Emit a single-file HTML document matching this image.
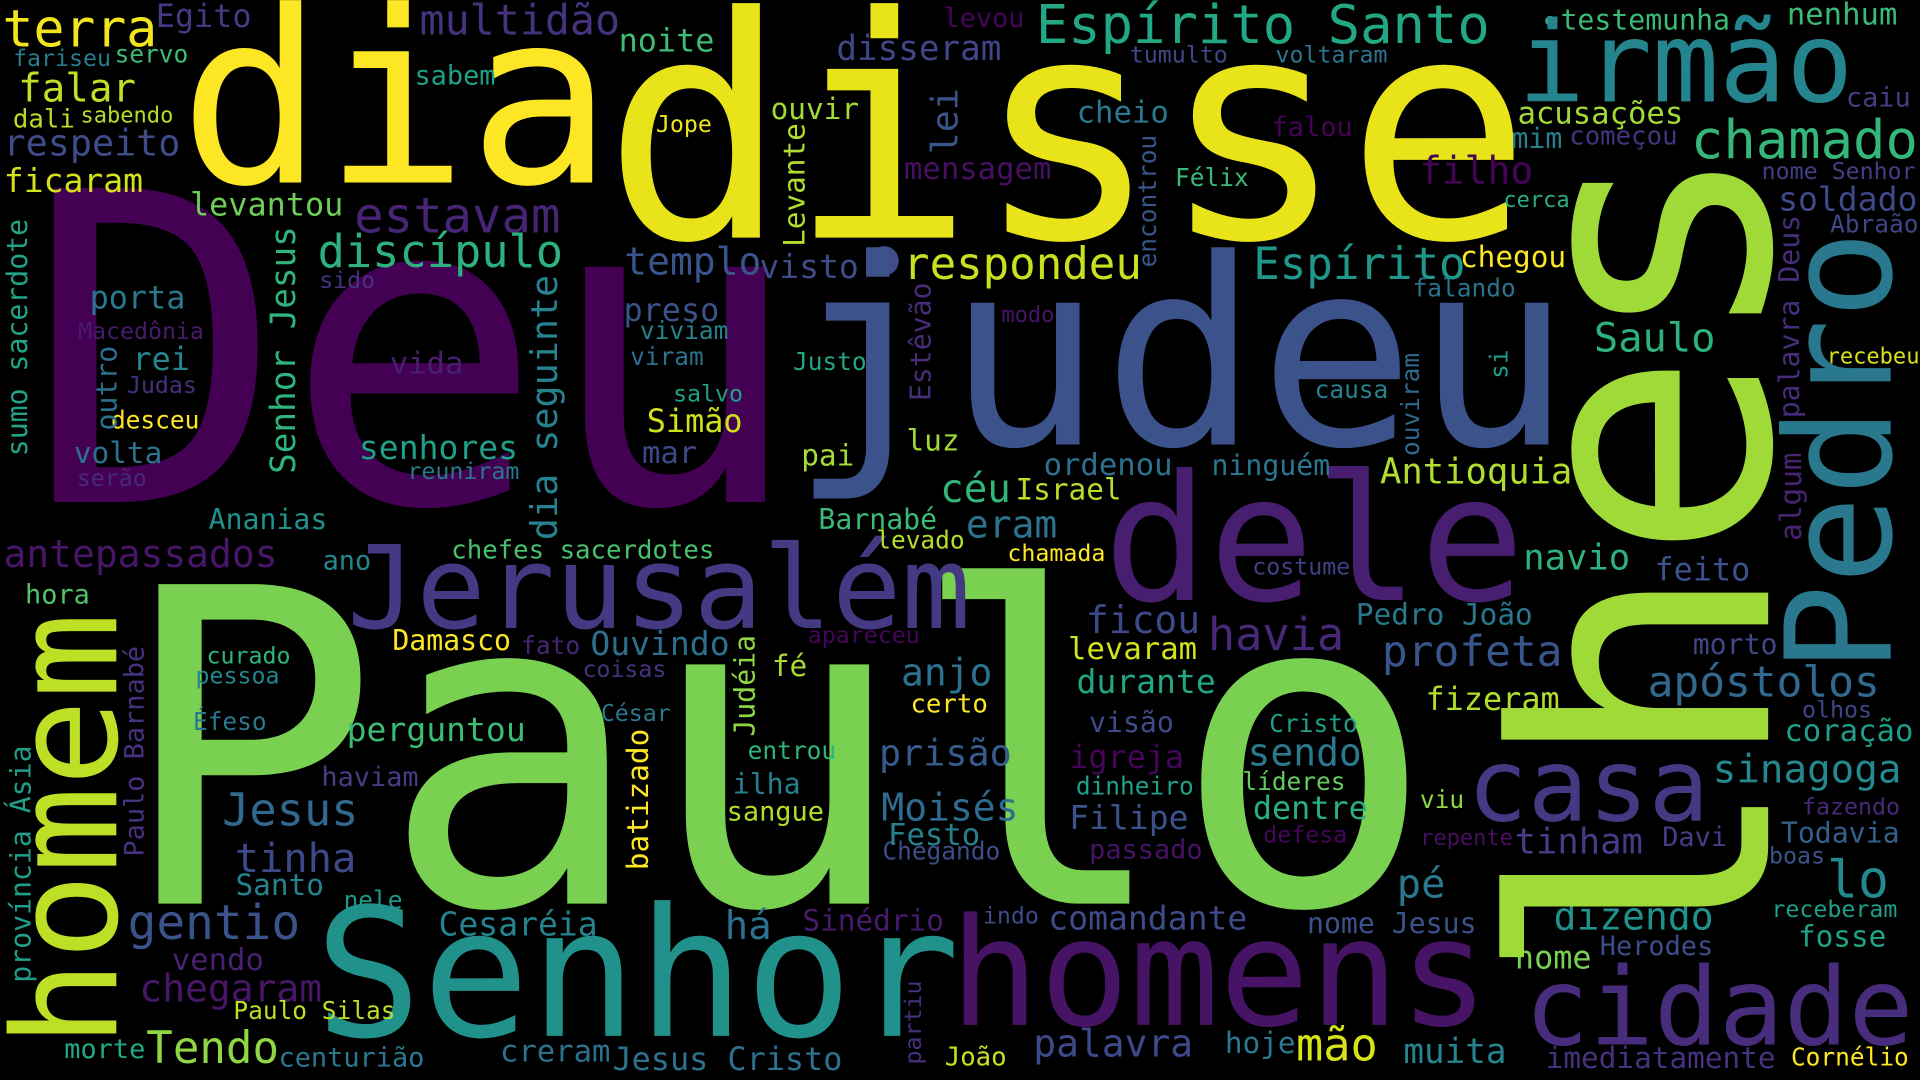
<!DOCTYPE html>
<html>
<head>
<meta charset="utf-8">
<style>
html,body{margin:0;padding:0;background:#000;width:1920px;height:1080px;overflow:hidden;}
svg{display:block;}
svg text{font-family:"DejaVu Sans Mono","Liberation Mono",monospace;}
</style>
</head>
<body>
<svg id="cloud" width="1920" height="1080" viewBox="0 0 1568 882" xmlns="http://www.w3.org/2000/svg">
<rect x="0" y="0" width="1568" height="882" fill="#000"/>
<circle cx="722" cy="213" r="12" fill="#3e4c8a"/>
<circle cx="1266" cy="17" r="4" fill="#3bbb75"/>
</svg>
<script>
// [word, visibleLeft (or baseline x if rotated), baseline (or bottom y if rotated), fontSize, color, rotated]
const words = [
["dia",160,149,196,"#fde725",0],
["disse",510,194,252,"#e8e419",0],
["Deu",45,410,352,"#440154",0],
["judeu",660,363,212,"#3b528b",0],
["Paulo",120,738,358,"#7ad151",0],
["dele",911,490,143,"#481f70",0],
["Jerusalém",290,513,94,"#443983",0],
["Senhor",267,846,146,"#21918c",0],
["homens",784,837,122,"#471365",0],
["cidade",1251,853,88,"#472d7b",0],
["casa",1204,670,82,"#443a83",0],
["irmão",1246,83,91,"#25858e",0],
["Espírito Santo",849,35,44,"#22a884",0],
["chamado",1384,129,44,"#35b779",0],
["Espírito",1026,228,36,"#1f988b",0],
["respondeu",740,228,36,"#c8e020",0],
["multidão",345,28,34,"#46337e",0],
["terra",5,38,42,"#f1e51d",0],
["Egito",129,22,26,"#443a83",0],
["fariseu",12,54,19,"#287c8e",0],
["servo",95,51,20,"#3dbc74",0],
["falar",17,83,32,"#c0df25",0],
["dali",12,104,21,"#bade28",0],
["sabendo",67,100,18,"#b5de2b",0],
["respeito",5,127,30,"#3e4c8a",0],
["ficaram",5,157,27,"#d2e21b",0],
["levantou",157,176,26,"#6ece58",0],
["estavam",292,190,40,"#482475",0],
["discípulo",262,218,37,"#2db27d",0],
["noite",507,42,26,"#3fbc73",0],
["sabem",340,69,22,"#1fa188",0],
["disseram",685,49,28,"#404688",0],
["ouvir",631,97,24,"#a2da37",0],
["Jope",537,108,19,"#f0e51c",0],
["mensagem",740,146,25,"#471063",0],
["templo",512,224,31,"#3a548c",0],
["visto",622,227,27,"#3e4c8a",0],
["porta",75,252,26,"#2a788e",0],
["sido",262,235,19,"#46327e",0],
["Macedônia",65,277,19,"#481a6c",0],
["rei",110,302,26,"#24868e",0],
["Judas",105,321,19,"#46307e",0],
["desceu",92,350,20,"#fde725",0],
["volta",62,378,24,"#2c728e",0],
["serão",64,397,19,"#482878",0],
["vida",320,305,25,"#481f70",0],
["senhores",295,375,27,"#1fa088",0],
["reuniram",334,391,19,"#2a788e",0],
["preso",511,262,26,"#3b528b",0],
["viviam",524,277,20,"#26828e",0],
["viram",516,298,20,"#2d708e",0],
["salvo",551,328,19,"#1fa187",0],
["Simão",530,353,26,"#d0e11c",0],
["mar",526,378,25,"#3e4989",0],
["Justo",649,302,20,"#22a785",0],
["pai",656,380,24,"#a5db36",0],
["luz",742,368,24,"#a0da39",0],
["Ananias",172,432,23,"#21918c",0],
["Barnabé",670,432,23,"#3bbb75",0],
["levado",717,448,20,"#b8de29",0],
["céu",770,410,32,"#32b67a",0],
["eram",791,439,31,"#2c728e",0],
["levou",772,22,22,"#450559",0],
["tumulto",924,51,19,"#3f4788",0],
["voltaram",1043,51,19,"#2b748e",0],
["testemunha",1276,24,23,"#3bbb75",0],
["nenhum",1461,20,25,"#3aba76",0],
["caiu",1509,87,22,"#433d84",0],
["cheio",881,100,25,"#2a788e",0],
["falou",1040,111,22,"#450457",0],
["acusações",1241,101,25,"#a2da37",0],
["mim",1236,121,23,"#277f8e",0],
["começou",1283,118,21,"#46337e",0],
["filho",1161,150,31,"#450457",0],
["Félix",961,152,20,"#3aba76",0],
["nome Senhor",1440,146,19,"#433e85",0],
["cerca",1229,169,18,"#29af7f",0],
["soldado",1454,172,27,"#3e4a89",0],
["Abraão",1496,190,20,"#414487",0],
["chegou",1194,218,24,"#fde725",0],
["falando",1155,242,20,"#2c728e",0],
["modo",819,263,18,"#481668",0],
["Saulo",1304,287,33,"#2db27d",0],
["recebeu",1493,297,18,"#d8e219",0],
["causa",1075,325,20,"#26828e",0],
["ordenou",854,388,25,"#2c718e",0],
["ninguém",991,388,23,"#2a768e",0],
["Antioquia",1129,395,29,"#b0dd2f",0],
["Israel",831,408,24,"#b8de29",0],
["antepassados",5,463,31,"#481668",0],
["ano",265,465,22,"#24878e",0],
["chefes sacerdotes",370,456,21,"#4ac16d",0],
["hora",22,493,22,"#50c46a",0],
["Damasco",322,531,23,"#fde725",0],
["fato",427,534,20,"#482576",0],
["Ouvindo",484,535,27,"#2d708e",0],
["apareceu",661,525,19,"#450559",0],
["curado",170,542,19,"#2fb47c",0],
["pessoa",161,558,19,"#24868e",0],
["coisas",477,553,19,"#46327e",0],
["fé",632,552,24,"#a8db34",0],
["Éfeso",159,596,20,"#2a778e",0],
["César",492,589,19,"#2a788e",0],
["perguntou",285,605,27,"#3bbb75",0],
["entrou",612,620,20,"#2fb47c",0],
["haviam",264,642,22,"#433e85",0],
["ilha",600,648,23,"#26818e",0],
["Jesus",184,674,37,"#31688e",0],
["sangue",595,670,22,"#b2dd2d",0],
["tinha",194,712,33,"#3e4989",0],
["Santo",194,731,24,"#26828e",0],
["nele",282,742,20,"#1f968b",0],
["gentio",107,767,39,"#3b528b",0],
["Cesaréia",360,764,27,"#25838e",0],
["há",594,767,32,"#2c718e",0],
["Sinédrio",657,760,24,"#481b6d",0],
["vendo",142,792,25,"#482173",0],
["chegaram",116,818,31,"#481668",0],
["Paulo Silas",192,832,20,"#bddf26",0],
["Tendo",122,868,36,"#8fd744",0],
["morte",54,864,22,"#22a884",0],
["centurião",229,871,22,"#2a788e",0],
["creram",410,867,25,"#2d708e",0],
["Jesus Cristo",502,874,26,"#2c728e",0],
["Chegando",722,702,20,"#3e4c8a",0],
["Festo",727,690,25,"#26818e",0],
["Moisés",722,670,31,"#2f6b8e",0],
["prisão",720,625,30,"#365c8d",0],
["anjo",738,560,31,"#2c728e",0],
["certo",745,582,21,"#fde725",0],
["João",773,870,21,"#c8e020",0],
["indo",804,754,19,"#3e4a89",0],
["chamada",824,458,19,"#fde725",0],
["costume",1024,469,19,"#424086",0],
["navio",1246,465,29,"#2db27d",0],
["feito",1353,474,26,"#3b528b",0],
["ficou",889,517,31,"#3e4989",0],
["havia",989,531,37,"#482878",0],
["Pedro João",1109,510,24,"#2a788e",0],
["levaram",874,538,25,"#d2e21b",0],
["profeta",1131,544,35,"#39568c",0],
["morto",1384,534,23,"#3f4788",0],
["durante",881,566,27,"#22a785",0],
["apóstolos",1348,569,35,"#31688e",0],
["fizeram",1166,580,26,"#b2dd2d",0],
["olhos",1473,586,19,"#404588",0],
["visão",891,598,23,"#3e4c8a",0],
["Cristo",1038,598,20,"#1f9f88",0],
["coração",1459,605,25,"#1f9e89",0],
["igreja",875,627,26,"#450559",0],
["sendo",1021,625,31,"#2a788e",0],
["sinagoga",1401,639,32,"#23898e",0],
["dinheiro",880,649,20,"#1fa188",0],
["líderes",1016,645,20,"#65cb5e",0],
["dentre",1025,669,26,"#29af7f",0],
["viu",1161,660,20,"#90d743",0],
["fazendo",1473,665,19,"#482979",0],
["Filipe",875,677,27,"#3b528b",0],
["defesa",1033,688,19,"#450559",0],
["repente",1161,690,18,"#470e61",0],
["tinham",1239,697,29,"#433e85",0],
["Davi",1359,691,22,"#433e85",0],
["Todavia",1456,688,23,"#355f8d",0],
["passado",891,701,22,"#471365",0],
["boas",1446,705,19,"#3b528b",0],
["pé",1143,733,33,"#2a788e",0],
["lo",1495,733,42,"#23898e",0],
["comandante",858,759,27,"#3e4c8a",0],
["nome Jesus",1069,762,23,"#3b528b",0],
["dizendo",1271,759,31,"#20928c",0],
["receberam",1448,749,19,"#1f9e89",0],
["fosse",1470,773,24,"#20a386",0],
["Herodes",1308,780,22,"#3e4c8a",0],
["nome",1239,791,26,"#77d153",0],
["palavra",846,863,31,"#3e4989",0],
["hoje",1002,860,24,"#2a788e",0],
["mão",1061,866,37,"#d8e219",0],
["muita",1148,868,28,"#25848e",0],
["imediatamente",1264,872,24,"#46327e",0],
["Cornélio",1464,870,20,"#fde725",0],
// rotated: [word, baselineX, bottomY, size, color, 1]
["lhes",1444,784,287,"#a0da39",1],
["Pedro",1544,541,120,"#2a788e",1],
["homem",95,847,118,"#bddf26",1],
["lei",782,124,30,"#3a548c",1],
["Levante",657,200,24,"#b0dd2f",1],
["Senhor Jesus",241,385,28,"#2fb47c",1],
["dia seguinte",455,439,30,"#26828e",1],
["sumo sacerdote",22,371,23,"#20a386",1],
["outro",95,350,23,"#2c718e",1],
["Estêvão",760,326,23,"#472c7a",1],
["encontrou",944,217,20,"#39568c",1],
["palavra Deus",1469,340,23,"#472d7b",1],
["si",1231,308,20,"#1f9e89",1],
["ouviram",1159,371,20,"#31688e",1],
["algum",1471,440,24,"#482475",1],
["Judéia",616,600,23,"#8fd744",1],
["Paulo Barnabé",117,698,22,"#46327e",1],
["batizado",529,709,24,"#fde725",1],
["província Ásia",25,801,23,"#1f9e89",1],
["partiu",752,868,19,"#46307e",1]
];
const svg = document.getElementById('cloud');
const NS = 'http://www.w3.org/2000/svg';
function slug(s){return s.toLowerCase().normalize('NFD').replace(/[\u0300-\u036f]/g,'').replace(/[^a-z0-9]+/g,'-');}
words.forEach(function(w){
  const t = document.createElementNS(NS,'text');
  const size = w[3];
  const off = 0.07*size;
  if (w[5]) {
    t.setAttribute('transform','translate('+w[1]+','+(w[2]+off)+') rotate(-90)');
  } else {
    t.setAttribute('x', w[1]-off);
    t.setAttribute('y', w[2]);
  }
  t.setAttribute('font-size', size);
  t.setAttribute('fill', w[4]);
  t.textContent = w[0];
  
  
  svg.appendChild(t);
});
</script>
</body>
</html>
